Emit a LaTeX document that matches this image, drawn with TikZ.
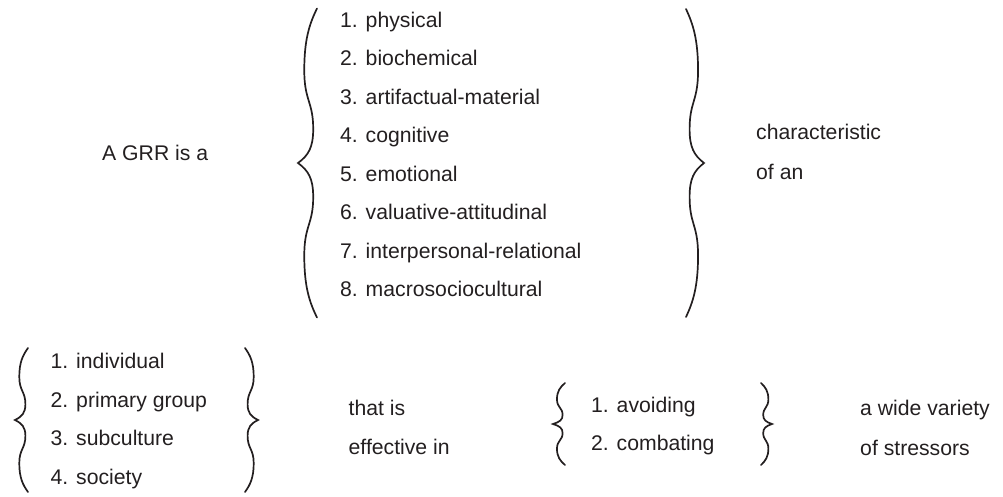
\documentclass[tikz,border=0pt]{standalone}
\usepackage{fontspec}
\setmainfont{Liberation Sans}
\definecolor{ink}{HTML}{231F20}
\tikzset{
  txt/.style={anchor=base west, inner sep=0pt, text=ink, font=\fontsize{21.2}{25}\selectfont},
  bracestyle/.style={draw=ink, line width=1.7pt, line cap=round, line join=miter},
  pics/curly/.style={code={
    \draw[bracestyle] (1,1) .. controls (0.6,0.9) and (0.33,0.8) .. (0.33,0.6)
      .. controls (0.33,0.4) and (0.8,0.4) .. (0.8,0.22)
      .. controls (0.8,0.1) and (0.55,0.05) .. (0,0)
      .. controls (0.55,-0.05) and (0.8,-0.1) .. (0.8,-0.22)
      .. controls (0.8,-0.4) and (0.33,-0.4) .. (0.33,-0.6)
      .. controls (0.33,-0.8) and (0.6,-0.9) .. (1,-1);
  }}
}
\begin{document}
\begin{tikzpicture}[x=1pt,y=-1pt]
\useasboundingbox (0,0) rectangle (1003,496);
% top row
\node[txt] (grr) at (102,160) {A GRR is a};
\pic[xscale=19, yscale=154.5] at (298,163) {curly};
\node[txt] (t1) at (340,27) {1. physical};
\node[txt] (t2) at (340,65.5) {2. biochemical};
\node[txt] (t3) at (340,104) {3. artifactual-material};
\node[txt] (t4) at (340,142.5) {4. cognitive};
\node[txt] (t5) at (340,181) {5. emotional};
\node[txt] (t6) at (340,219.5) {6. valuative-attitudinal};
\node[txt] (t7) at (340,258) {7. interpersonal-relational};
\node[txt] (t8) at (340,296.5) {8. macrosociocultural};
\pic[xscale=-18, yscale=154] at (704,163) {curly};
\node[txt] (char) at (756,139) {characteristic};
\node[txt] (ofan) at (756,179) {of an};
% bottom row
\pic[xscale=13, yscale=72] at (15,420) {curly};
\node[txt] (b1) at (50.5,368) {1. individual};
\node[txt] (b2) at (50.5,407) {2. primary group};
\node[txt] (b3) at (50.5,445) {3. subculture};
\node[txt] (b4) at (50.5,484) {4. society};
\pic[xscale=-13, yscale=72] at (258,420) {curly};
\node[txt] (thatis) at (348.5,415) {that is};
\node[txt] (effin) at (348.5,454) {effective in};
\pic[xscale=12, yscale=41] at (553,424) {curly};
\node[txt] (avoid) at (591,412) {1. avoiding};
\node[txt] (comb) at (591,450) {2. combating};
\pic[xscale=-11, yscale=41] at (772,424) {curly};
\node[txt] (wide) at (860,415) {a wide variety};
\node[txt] (stress) at (860,455) {of stressors};
\end{tikzpicture}
\end{document}
